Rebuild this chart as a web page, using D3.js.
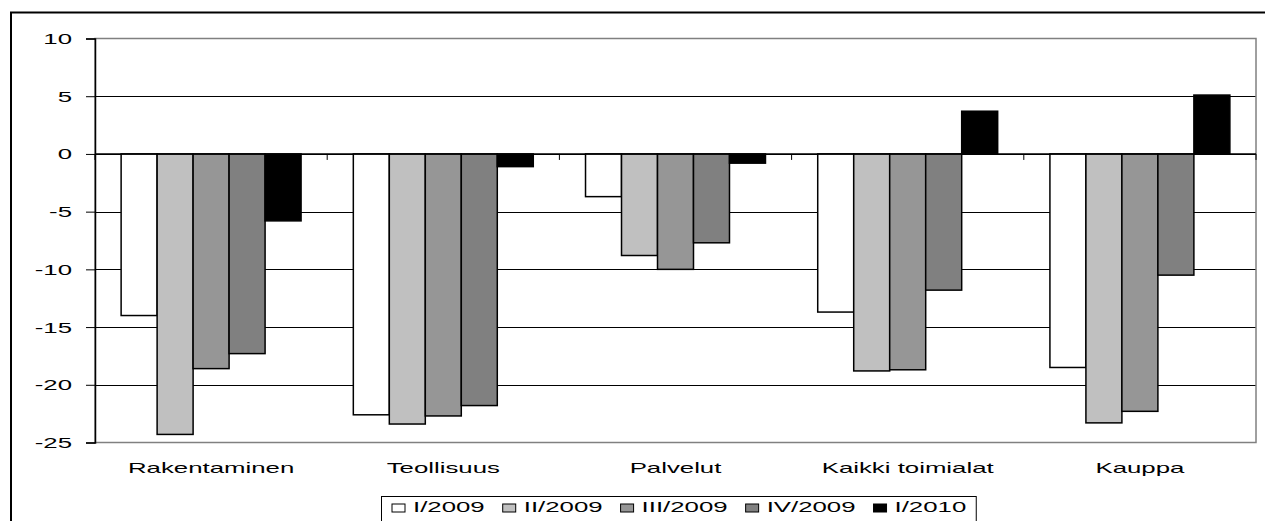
<!DOCTYPE html>
<html>
<head>
<meta charset="utf-8">
<script src="https://cdn.jsdelivr.net/npm/d3@7"></script>
<style>
  body { margin: 0; background: #fff; }
  text { font-family: Arial, "Liberation Sans", sans-serif; font-size: 15px; fill: #000; }
</style>
</head>
<body>
<div id="chart"></div>
<script>
const fig_width = 1265
const fig_height = 521

// values (change %, per quarter)
const categories = ['Rakentaminen', 'Teollisuus', 'Palvelut', 'Kaikki toimialat', 'Kauppa']
const series_names = ['I/2009', 'II/2009', 'III/2009', 'IV/2009', 'I/2010']
const q1_2009 = [-14.0, -22.6, -3.7, -13.7, -18.5]
const q2_2009 = [-24.3, -23.4, -8.8, -18.8, -23.3]
const q3_2009 = [-18.6, -22.7, -10.0, -18.7, -22.3]
const q4_2009 = [-17.3, -21.8, -7.7, -11.8, -10.5]
const q1_2010 = [-5.8, -1.1, -0.8, 3.7, 5.1]
const y_ticks = [10, 5, 0, -5, -10, -15, -20, -25]

const series_values = [q1_2009, q2_2009, q3_2009, q4_2009, q1_2010]
const series_colours = ['#ffffff', '#c0c0c0', '#969696', '#808080', '#000000']

// the original picture is stretched sideways, text too
const text_stretch = 1.72

const plot = {left: 95, right: 1256, top: 38.5, bottom: 442.5}

let svg = d3.select('#chart')
    .append('svg')
    .attr('width', fig_width)
    .attr('height', fig_height)

// outer frame, only top and left edges are visible
svg.append('line')
    .attr('x1', 10).attr('x2', fig_width)
    .attr('y1', 12.5).attr('y2', 12.5)
    .style('stroke', '#000').style('stroke-width', 2)
svg.append('line')
    .attr('x1', 11).attr('x2', 11)
    .attr('y1', 12).attr('y2', fig_height)
    .style('stroke', '#000').style('stroke-width', 2)

let y = d3.scaleLinear()
    .domain([d3.min(y_ticks), d3.max(y_ticks)])
    .range([plot.bottom, plot.top])

// excel style gap: half of the gap on each side of a group
let gap = 0.225
let x = d3.scaleBand()
    .domain(categories)
    .range([plot.left, plot.right])
    .paddingInner(gap)
    .paddingOuter(gap / 2)

let x_inner = d3.scaleBand()
    .domain(series_names)
    .range([0, x.bandwidth()])

// grid lines between the borders
svg.append('g')
    .selectAll('line')
    .data(y_ticks.filter(t => t != d3.min(y_ticks) && t != d3.max(y_ticks)))
    .join('line')
    .attr('x1', plot.left).attr('x2', plot.right)
    .attr('y1', d => Math.round(y(d)) + 0.5).attr('y2', d => Math.round(y(d)) + 0.5)
    .style('stroke', '#000').style('stroke-width', 1)

// plot area border
svg.append('rect')
    .attr('x', plot.left).attr('y', plot.top)
    .attr('width', plot.right - plot.left).attr('height', plot.bottom - plot.top)
    .style('fill', 'none').style('stroke', '#808080').style('stroke-width', 1.5)

// value axis, plain hyphen for the minus like the original
let y_axis = svg.append('g')
    .attr('transform', `translate(${plot.left},0)`)
    .call(d3.axisLeft(y).tickValues(y_ticks).tickSize(9).tickPadding(0).tickFormat(d => String(d)))
y_axis.select('.domain').style('stroke', '#000').style('stroke-width', 1.5)
y_axis.selectAll('.tick line').style('stroke', '#000')
y_axis.selectAll('.tick text')
    .attr('x', null).attr('dy', null)
    .attr('text-anchor', 'end')
    .attr('font-family', null).attr('font-size', null)
    .attr('transform', `translate(-23,5) scale(${text_stretch},1)`)

// bars
let groups = svg.append('g')
    .selectAll('g')
    .data(series_names)
    .join('g')
    .style('fill', (d, i) => series_colours[i])

groups.selectAll('rect')
    .data((name, i) => categories.map((c, j) => ({cat: c, name: name, value: series_values[i][j]})))
    .join('rect')
    .attr('x', d => x(d.cat) + x_inner(d.name))
    .attr('width', x_inner.bandwidth())
    .attr('y', d => y(Math.max(0, d.value)))
    .attr('height', d => Math.abs(y(d.value) - y(0)))
    .style('stroke', '#000')
    .style('stroke-width', 1.5)

// category axis sits on the zero line, ticks between the groups
let boundaries = categories.map(c => x(c) - x.step() * gap / 2)
boundaries.push(plot.right)
svg.append('line')
    .attr('x1', plot.left).attr('x2', plot.right)
    .attr('y1', y(0)).attr('y2', y(0))
    .style('stroke', '#000').style('stroke-width', 1.5)
svg.append('g')
    .selectAll('line')
    .data(boundaries)
    .join('line')
    .attr('x1', d => d).attr('x2', d => d)
    .attr('y1', y(0)).attr('y2', y(0) + 6)
    .style('stroke', '#000')

svg.append('g')
    .selectAll('text')
    .data(categories)
    .join('text')
    .attr('text-anchor', 'middle')
    .attr('transform', d => `translate(${x(d) + x.bandwidth() / 2},473) scale(${text_stretch},1)`)
    .text(d => d)

// legend, laid out from the measured text widths
let legend = svg.append('g')
let legend_items = legend.selectAll('g')
    .data(series_names)
    .join('g')
legend_items.append('rect')
    .attr('width', 13).attr('height', 8)
    .attr('y', -8)
    .style('fill', (d, i) => series_colours[i])
    .style('stroke', '#000').style('stroke-width', 1)
legend_items.append('text')
    .attr('transform', `translate(21,0) scale(${text_stretch},1)`)
    .text(d => d)

let legend_gap = 18
let legend_x = 392
legend_items.each(function() {
    let item = d3.select(this)
    item.attr('transform', `translate(${legend_x},512)`)
    legend_x += 21 + item.select('text').node().getComputedTextLength() * text_stretch + legend_gap
})
legend.insert('rect', ':first-child')
    .attr('x', 381.5).attr('y', 496.5)
    .attr('width', legend_x - legend_gap + 10 - 381.5).attr('height', 40)
    .style('fill', '#fff').style('stroke', '#000').style('stroke-width', 1)
</script>
</body>
</html>
